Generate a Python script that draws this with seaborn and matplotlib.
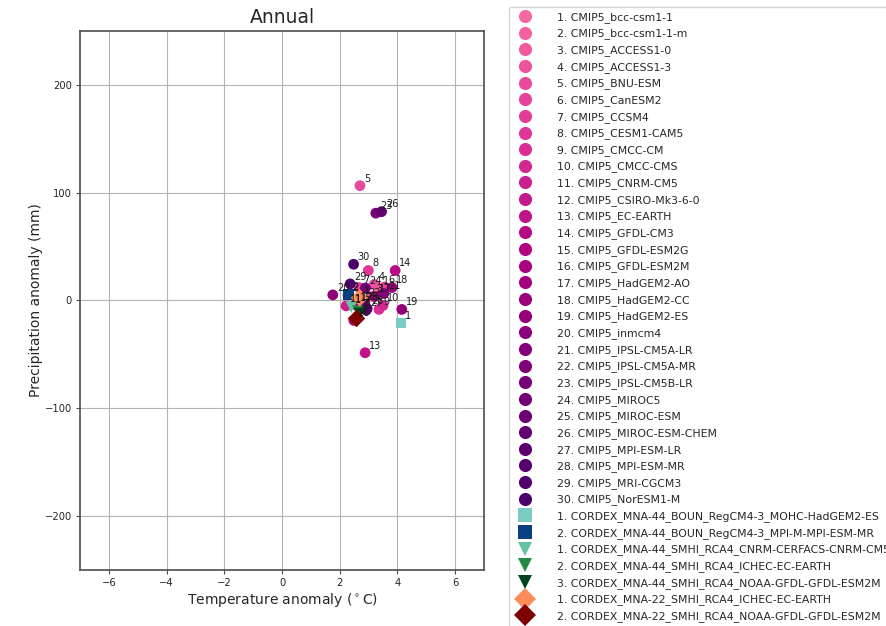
import matplotlib
matplotlib.use("Agg")
import matplotlib.pyplot as plt
import seaborn as sns
import pandas as pd
import numpy as np

# CMIP5 models
cmip5_names = ["bcc-csm1-1", "bcc-csm1-1-m", "ACCESS1-0", "ACCESS1-3", "BNU-ESM",
               "CanESM2", "CCSM4", "CESM1-CAM5", "CMCC-CM", "CMCC-CMS",
               "CNRM-CM5", "CSIRO-Mk3-6-0", "EC-EARTH", "GFDL-CM3", "GFDL-ESM2G",
               "GFDL-ESM2M", "HadGEM2-AO", "HadGEM2-CC", "HadGEM2-ES", "inmcm4",
               "IPSL-CM5A-LR", "IPSL-CM5A-MR", "IPSL-CM5B-LR", "MIROC5", "MIROC-ESM",
               "MIROC-ESM-CHEM", "MPI-ESM-LR", "MPI-ESM-MR", "MRI-CGCM3", "NorESM1-M"]
cmip5_temp = [3.37, 2.28, 3.12, 3.19, 2.70, 3.55, 2.67, 2.99, 3.36, 3.50,
              2.22, 2.60, 2.88, 3.92, 2.55, 2.49, 3.22, 3.81, 4.15, 1.76,
              3.53, 2.85, 3.25, 2.89, 2.78, 3.45, 2.92, 2.95, 2.36, 2.48]
cmip5_prec = [11.6, 5.0, 3.7, 14.8, 106.5, 12.5, 12.0, 27.8, -8.3, -4.6,
              -5.0, -3.0, -48.5, 27.8, -4.0, -18.5, 3.7, 12.0, -8.3, 5.2,
              6.5, 0.0, 81.0, 11.6, -3.0, 82.4, -9.0, -7.4, 15.4, 33.6]

# CORDEX runs
boun_names = ["MNA-44_BOUN_RegCM4-3_MOHC-HadGEM2-ES", "MNA-44_BOUN_RegCM4-3_MPI-M-MPI-ESM-MR"]
boun_temp = [4.12, 2.30]
boun_prec = [-21.0, 5.5]

smhi44_names = ["MNA-44_SMHI_RCA4_CNRM-CERFACS-CNRM-CM5", "MNA-44_SMHI_RCA4_ICHEC-EC-EARTH",
                "MNA-44_SMHI_RCA4_NOAA-GFDL-GFDL-ESM2M"]
smhi44_temp = [2.40, 2.63, 2.69]
smhi44_prec = [-6.0, -10.0, -12.0]

smhi22_names = ["MNA-22_SMHI_RCA4_ICHEC-EC-EARTH", "MNA-22_SMHI_RCA4_NOAA-GFDL-GFDL-ESM2M"]
smhi22_temp = [2.69, 2.58]
smhi22_prec = [2.5, -16.7]

groups = [
    ("CMIP5_", cmip5_names, cmip5_temp, cmip5_prec, "RdPu", "o"),
    ("CORDEX_", boun_names, boun_temp, boun_prec, "GnBu", "s"),
    ("CORDEX_", smhi44_names, smhi44_temp, smhi44_prec, "BuGn", "v"),
    ("CORDEX_", smhi22_names, smhi22_temp, smhi22_prec, "OrRd", "D"),
]

rows = []
palette = {}
markers = {}
sizes = {"o": 60, "s": 60, "v": 70, "D": 80}
for prefix, names, temps, precs, cmap, mk in groups:
    cols = plt.get_cmap(cmap)(np.linspace(0.5, 1.0, len(names)))
    for i, (n, t, p) in enumerate(zip(names, temps, precs)):
        lab = f"{i + 1}. {prefix}{n}"
        rows.append({"model": lab, "num": i + 1, "temp": t, "prec": p, "mk": mk})
        palette[lab] = cols[i]
        markers[lab] = mk
df = pd.DataFrame(rows)

sns.set_style("whitegrid", {"axes.edgecolor": "0.3", "grid.color": "0.7",
                            "xtick.bottom": True, "ytick.left": True})
plt.rcParams["font.family"] = ["DejaVu Sans"]

fig = plt.figure(figsize=(8.87, 6.26), dpi=100)
ax = fig.add_axes([0.0902, 0.0895, 0.4555, 0.861])

for mk in ["o", "s", "v", "D"]:
    sub = df[df["mk"] == mk]
    sns.scatterplot(data=sub, x="temp", y="prec", hue="model", style="model",
                    palette={k: palette[k] for k in sub["model"]},
                    markers={k: markers[k] for k in sub["model"]},
                    s=sizes[mk], linewidth=0, ax=ax, legend=True, zorder=3)

for _, r in df.iterrows():
    ax.annotate(str(r["num"]), (r["temp"], r["prec"]), xytext=(3, 3),
                textcoords="offset points", fontsize=7, color="0.1", zorder=4)

ax.set_xlim(-7, 7)
ax.set_ylim(-250, 250)
ax.set_xticks([-6, -4, -2, 0, 2, 4, 6])
ax.set_yticks([-200, -100, 0, 100, 200])
ax.tick_params(labelsize=7.2, length=3, color="0.3", pad=3)
ax.set_title("Annual", fontsize=13.5)
ax.set_xlabel("Temperature anomaly ($^\\circ$C)", fontsize=10, labelpad=2)
ax.set_ylabel("Precipitation anomaly (mm)", fontsize=10, labelpad=1)
for sp in ax.spines.values():
    sp.set_linewidth(1.2)

handles, labels = ax.get_legend_handles_labels()
ax.legend(handles, labels, loc="upper left", bbox_to_anchor=(0.574, 0.989),
          bbox_transform=fig.transFigure, fontsize=7.8, markerscale=1.22,
          frameon=True, borderaxespad=0, handletextpad=1.95, borderpad=0.45,
          labelspacing=0.53)

fig.savefig("out.png", dpi=100)
